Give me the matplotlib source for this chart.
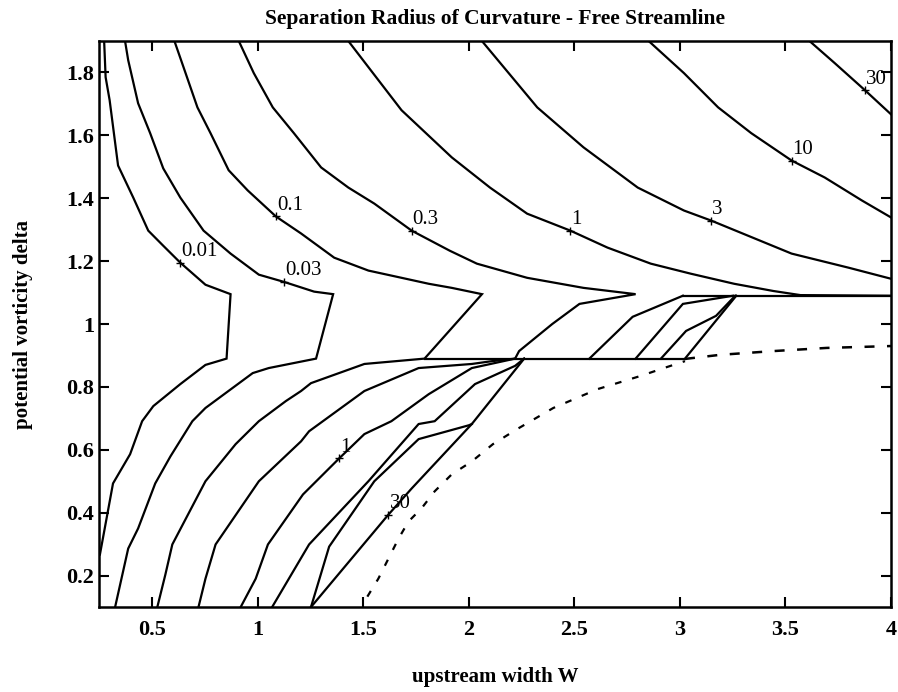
import matplotlib.pyplot as plt

plt.rcParams['font.family'] = ['Liberation Serif', 'DejaVu Serif']

# contour lines of the radius of curvature as (W, delta)
level_001 = [(0.272, 1.9), (0.279, 1.785), (0.298, 1.712), (0.338, 1.504), (0.410, 1.402),
             (0.481, 1.297), (0.552, 1.249), (0.633, 1.195), (0.752, 1.125), (0.871, 1.095),
             (0.852, 0.89), (0.752, 0.870), (0.633, 0.809), (0.505, 0.739), (0.452, 0.691),
             (0.395, 0.586), (0.314, 0.493), (0.252, 0.267)]
level_003 = [(0.371, 1.9), (0.386, 1.839), (0.433, 1.702), (0.490, 1.607), (0.552, 1.495),
             (0.633, 1.402), (0.743, 1.297), (0.871, 1.224), (1.005, 1.157), (1.124, 1.134),
             (1.267, 1.103), (1.357, 1.095), (1.276, 0.89), (1.052, 0.860), (0.976, 0.844),
             (0.752, 0.733), (0.690, 0.691), (0.586, 0.579), (0.514, 0.493), (0.433, 0.350),
             (0.386, 0.286), (0.324, 0.1)]
level_01 = [(0.605, 1.9), (0.648, 1.817), (0.714, 1.689), (0.776, 1.607), (0.862, 1.489),
            (0.952, 1.425), (1.086, 1.342), (1.205, 1.288), (1.362, 1.211), (1.524, 1.170),
            (1.681, 1.147), (1.810, 1.128), (1.919, 1.115), (2.062, 1.095), (1.790, 0.89),
            (1.505, 0.873), (1.252, 0.812), (1.205, 0.787), (1.133, 0.755), (1.005, 0.691),
            (0.895, 0.618), (0.752, 0.500), (0.595, 0.299), (0.562, 0.203), (0.524, 0.1)]
level_03 = [(0.910, 1.9), (0.981, 1.798), (1.071, 1.689), (1.171, 1.607), (1.300, 1.498),
            (1.429, 1.434), (1.552, 1.383), (1.729, 1.297), (1.910, 1.233), (2.038, 1.192),
            (2.276, 1.147), (2.543, 1.115), (2.790, 1.095), (2.524, 1.064), (2.395, 1.000),
            (2.238, 0.914), (2.219, 0.89), (2.110, 0.882), (2.014, 0.873), (1.762, 0.860),
            (1.505, 0.787), (1.243, 0.659), (1.205, 0.627), (1.005, 0.500), (0.800, 0.299),
            (0.752, 0.190), (0.719, 0.1)]
level_1_top = [(1.429, 1.9), (1.524, 1.817), (1.681, 1.680), (1.919, 1.530), (2.100, 1.434),
               (2.276, 1.351), (2.481, 1.297), (2.657, 1.243), (2.862, 1.192), (3.052, 1.160),
               (3.257, 1.128), (3.443, 1.105), (3.571, 1.092), (4.0, 1.09)]
level_1_low = [(0.919, 0.1), (0.990, 0.190), (1.048, 0.299), (1.214, 0.458), (1.386, 0.573),
               (1.505, 0.650), (1.633, 0.691), (1.810, 0.777), (2.014, 0.860), (2.219, 0.89)]
level_3_top = [(2.062, 1.9), (2.324, 1.689), (2.543, 1.562), (2.800, 1.434), (3.019, 1.361),
               (3.148, 1.329), (3.529, 1.224), (3.800, 1.179), (4.0, 1.144)]
level_3_low = [(1.068, 0.1), (1.243, 0.299), (1.524, 0.500), (1.762, 0.682), (1.838, 0.691),
               (2.029, 0.809), (2.219, 0.867), (2.262, 0.89)]
level_10_top = [(2.852, 1.9), (3.019, 1.798), (3.181, 1.689), (3.338, 1.607), (3.529, 1.520),
                (3.686, 1.466), (3.862, 1.393), (4.0, 1.339)]
level_10_low = [(1.252, 0.1), (1.338, 0.292), (1.552, 0.500), (1.762, 0.634), (2.000, 0.678),
                (2.014, 0.682)]
level_30_top = [(3.614, 1.9), (3.733, 1.830), (3.876, 1.744), (4.0, 1.667)]
level_30_low = [(1.252, 0.1), (1.619, 0.394), (1.729, 0.477), (2.014, 0.682), (2.262, 0.89)]

# pieces crossing the band between the two ridges
band_a = [(2.571, 0.89), (2.776, 1.023), (3.014, 1.09)]
band_b = [(2.790, 0.89), (3.014, 1.064), (3.252, 1.09)]
band_c = [(2.910, 0.89), (3.029, 0.978), (3.171, 1.026), (3.262, 1.09)]
band_d = [(3.024, 0.89), (3.267, 1.09)]
ridge_low = [(1.790, 0.89), (3.024, 0.89)]
ridge_high = [(3.014, 1.09), (4.0, 1.09)]

# dashed boundaries
dash_low = [(1.519, 0.133), (1.571, 0.190), (1.619, 0.254), (1.667, 0.318), (1.714, 0.372),
            (1.776, 0.414), (1.838, 0.468), (1.919, 0.522), (2.014, 0.563), (2.114, 0.618),
            (2.229, 0.666), (2.400, 0.733), (2.610, 0.793), (2.814, 0.835), (2.924, 0.860),
            (3.024, 0.882)]
dash_high = [(3.024, 0.889), (3.190, 0.902), (3.443, 0.914), (3.695, 0.924), (4.0, 0.930)]

# contour labels: text, W, delta
labels = [('0.01', 0.633, 1.195), ('0.03', 1.124, 1.134), ('0.1', 1.086, 1.342),
          ('0.3', 1.729, 1.297), ('1', 2.481, 1.297), ('3', 3.148, 1.329),
          ('10', 3.529, 1.520), ('30', 3.876, 1.744), ('1', 1.386, 0.573),
          ('30', 1.619, 0.394)]

xticks = [0.5, 1, 1.5, 2, 2.5, 3, 3.5, 4]
xticklabels = ['0.5', '1', '1.5', '2', '2.5', '3', '3.5', '4']
yticks = [0.2, 0.4, 0.6, 0.8, 1.0, 1.2, 1.4, 1.6, 1.8]
yticklabels = ['0.2', '0.4', '0.6', '0.8', '1', '1.2', '1.4', '1.6', '1.8']

fig = plt.figure(figsize=(8.98, 6.92), dpi=100)
ax = fig.add_axes([0.1108, 0.1228, 0.8814, 0.8179])

solid = [level_001, level_003, level_01, level_03, level_1_top, level_1_low,
         level_3_top, level_3_low, level_10_top, level_10_low, level_30_top, level_30_low,
         band_a, band_b, band_c, band_d, ridge_low, ridge_high]
for line in solid:
    xs, ys = zip(*line)
    ax.plot(xs, ys, color='black', lw=1.6, solid_joinstyle='miter')

xs, ys = zip(*dash_low)
ax.plot(xs, ys, color='black', lw=1.6, dashes=(3, 5))
xs, ys = zip(*dash_high)
ax.plot(xs, ys, color='black', lw=1.8, dashes=(4, 5))

for txt, x, y in labels:
    ax.plot(x, y, marker='+', color='black', ms=6, mew=1.0)
    ax.text(x + 0.005, y + 0.005, txt, fontsize=15, ha='left', va='bottom')

ax.set_xlim(0.25, 4)
ax.set_ylim(0.1, 1.9)
ax.set_xticks(xticks)
ax.set_xticklabels(xticklabels, fontweight='bold')
ax.set_yticks(yticks)
ax.set_yticklabels(yticklabels, fontweight='bold')
ax.tick_params(direction='in', length=7, width=1.5, top=True, right=True, labelsize=16)
ax.tick_params(axis='x', pad=9)
ax.tick_params(axis='y', pad=4)
for s in ax.spines.values():
    s.set_linewidth(1.8)

ax.set_title('Separation Radius of Curvature - Free Streamline', fontsize=15.5,
             fontweight='bold', pad=12)
ax.set_xlabel('upstream width W', fontsize=15, fontweight='bold')
ax.xaxis.set_label_coords(0.5, -0.106)
ax.set_ylabel('potential vorticity delta', fontsize=15, fontweight='bold')
ax.yaxis.set_label_coords(-0.084, 0.5)

fig.savefig('out.png', dpi=100)
